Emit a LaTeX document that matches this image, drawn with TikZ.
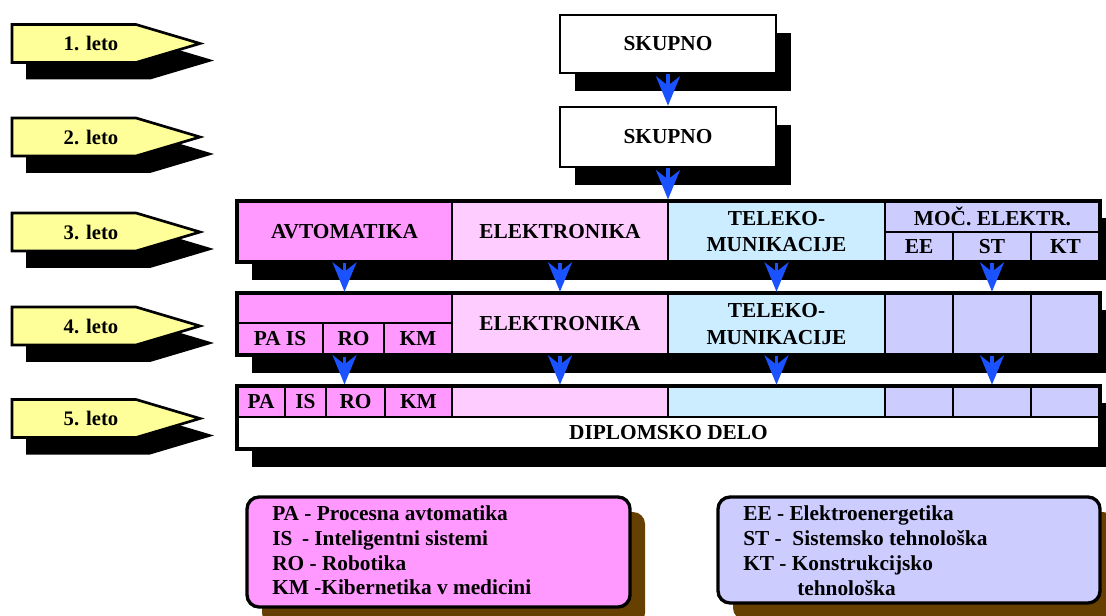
\documentclass[tikz,border=0pt]{standalone}
\usepackage{fontspec}
\setmainfont{Liberation Serif}
\usetikzlibrary{arrows.meta,fit}
\definecolor{yel}{HTML}{FFFF99}
\definecolor{mag}{HTML}{FF99FF}
\definecolor{lpink}{HTML}{FFCCFF}
\definecolor{lblue}{HTML}{CCECFF}
\definecolor{lav}{HTML}{CCCCFF}
\definecolor{arrblue}{RGB}{26,82,255}
\definecolor{brownsh}{RGB}{102,64,0}
\newcommand\yeararrow[3]{%
  \fill[black,shift={(14,17)}] (12,#2-19) -- (136,#2-19) -- (200,#2) -- (136,#2+19) -- (12,#2+19) -- cycle;
  \draw[line width=2pt,fill=yel] (12,#2-19) -- (136,#2-19) -- (200,#2) -- (136,#2+19) -- (12,#2+19) -- cycle;
  \node[txt] (#1) at (91,#2) {#3};}
% name, x1, y1, x2, y2, text, fill
\newcommand\cellnode[7]{%
  \node[cell,fill=#7,minimum width={(#4-#2)*0.75pt},minimum height={(#5-#3)*0.75pt}]
    (#1) at ({(#2+#4)/2},{(#3+#5)/2}) {#6};}
\begin{document}
\begin{tikzpicture}[x=0.75pt,y=-0.75pt,
  txt/.style={font=\fontsize{15.5}{20}\selectfont\bfseries,inner sep=0pt},
  cell/.style={draw=black,line width=2pt,inner sep=0pt,align=center,font=\fontsize{16}{20}\selectfont\bfseries},
  frame/.style={draw=black,line width=2.4pt,inner sep=0pt},
  blarr/.style={draw=arrblue,line width=2.6pt,-{Stealth[length=22pt,width=18pt,inset=7pt]}},
  legbox/.style={draw=black,line width=2.5pt,rounded corners=9pt,inner sep=0pt},
  legtxt/.style={font=\fontsize{16}{20}\selectfont\bfseries,inner sep=0pt,anchor=base west}]
\useasboundingbox (0,0) rectangle (1106,616);
\clip (0,0) rectangle (1106,616);
\fill[white] (0,0) rectangle (1106,616);

% year arrows
\yeararrow{y1}{43.5}{1. leto}
\yeararrow{y2}{137}{2. leto}
\yeararrow{y3}{232}{3. leto}
\yeararrow{y4}{326}{4. leto}
\yeararrow{y5}{418.5}{5. leto}

% shadows
\fill[black] (575,33) rectangle (791,91);
\fill[black] (575,125) rectangle (791,185);
\fill[black] (252,218) rectangle (1120,280);
\fill[black] (252,310) rectangle (1120,373);
\fill[black] (252,403) rectangle (1120,467);
\fill[brownsh,rounded corners=9pt] (262,512) rectangle (645,625);
\fill[brownsh,rounded corners=9pt] (733,512) rectangle (1115,620);

% SKUPNO boxes
\cellnode{sk1}{560}{15}{776}{73}{SKUPNO}{white}
\cellnode{sk2}{560}{107}{776}{167}{SKUPNO}{white}

% row 3
\cellnode{r3a}{237}{201}{452}{262}{AVTOMATIKA}{mag}
\cellnode{r3e}{452}{201}{668}{262}{ELEKTRONIKA}{lpink}
\cellnode{r3t}{668}{201}{885}{262}{TELEKO-\\MUNIKACIJE}{lblue}
\cellnode{r3m}{885}{201}{1100}{232}{MOČ. ELEKTR.}{lav}
\cellnode{r3ee}{885}{232}{953}{262}{EE}{lav}
\cellnode{r3st}{953}{232}{1031}{262}{ST}{lav}
\cellnode{r3kt}{1031}{232}{1100}{262}{KT}{lav}
\node[frame,fit={(237,201) (1100,262)}] (r3) {};

% row 4
\cellnode{r4a}{237}{293}{452}{323}{}{mag}
\cellnode{r4pa}{237}{323}{323}{355}{PA IS}{mag}
\cellnode{r4ro}{323}{323}{384}{355}{RO}{mag}
\cellnode{r4km}{384}{323}{452}{355}{KM}{mag}
\cellnode{r4e}{452}{293}{668}{355}{ELEKTRONIKA}{lpink}
\cellnode{r4t}{668}{293}{885}{355}{TELEKO-\\MUNIKACIJE}{lblue}
\cellnode{r4m1}{885}{293}{953}{355}{}{lav}
\cellnode{r4m2}{953}{293}{1031}{355}{}{lav}
\cellnode{r4m3}{1031}{293}{1100}{355}{}{lav}
\node[frame,fit={(237,293) (1100,355)}] (r4) {};

% row 5
\cellnode{r5pa}{237}{386}{285}{417}{PA}{mag}
\cellnode{r5is}{285}{386}{326}{417}{IS}{mag}
\cellnode{r5ro}{326}{386}{385}{417}{RO}{mag}
\cellnode{r5km}{385}{386}{452}{417}{KM}{mag}
\cellnode{r5e}{452}{386}{668}{417}{}{lpink}
\cellnode{r5t}{668}{386}{885}{417}{}{lblue}
\cellnode{r5m1}{885}{386}{953}{417}{}{lav}
\cellnode{r5m2}{953}{386}{1031}{417}{}{lav}
\cellnode{r5m3}{1031}{386}{1100}{417}{}{lav}
\cellnode{r5d}{237}{417}{1100}{449}{DIPLOMSKO DELO}{white}
\node[frame,fit={(237,386) (1100,449)}] (r5) {};

% arrows
\draw[blarr] (sk1.south) -- (sk2.north);
\draw[blarr] (sk2.south) -- (sk2.south |- r3.north);
\draw[blarr] (r3a.south) -- (r4a.north);
\draw[blarr] (r3e.south) -- (r4e.north);
\draw[blarr] (r3t.south) -- (r4t.north);
\draw[blarr] (r3st.south) -- (r4m2.north);
\draw[blarr] (r4a.center |- r4.south) -- (r4a.center |- r5.north);
\draw[blarr] (r4e.south) -- (r5e.north);
\draw[blarr] (r4t.south) -- (r5t.north);
\draw[blarr] (r4m2.south) -- (r5m2.north);

% legends
\node[legbox,fill=mag,fit={(247,497) (630,607)}] (leg1) {};
\node[legtxt] (l1a) at (272,520) {PA - Procesna avtomatika};
\node[legtxt] (l1b) at (272,545) {IS\hspace{0.45em}- Inteligentni sistemi};
\node[legtxt] (l1c) at (272,570) {RO - Robotika};
\node[legtxt] (l1d) at (272,594) {KM -Kibernetika v medicini};

\node[legbox,fill=lav,fit={(718,497) (1100,603)}] (leg2) {};
\node[legtxt] (l2a) at (743,520) {EE - Elektroenergetika};
\node[legtxt] (l2b) at (743,545) {ST -\hspace{0.5em}Sistemsko tehnološka};
\node[legtxt] (l2c) at (743,570) {KT - Konstrukcijsko};
\node[legtxt] (l2d) at (797,595) {tehnološka};
\end{tikzpicture}
\end{document}
